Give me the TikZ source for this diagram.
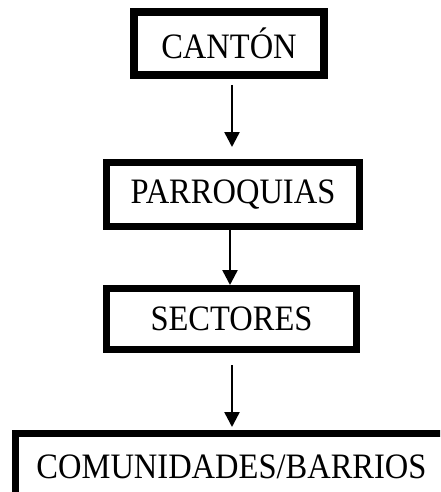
\documentclass[tikz,border=0pt]{standalone}
\usepackage{fontspec}
\setmainfont{Liberation Serif}
\usetikzlibrary{arrows.meta}
\def\rotulo#1{\scalebox{1}[1.1]{#1}}
\tikzset{
	nivel/.style={draw, line width=7pt, inner sep=0pt, font=\fontsize{32.5}{36}\selectfont},
	flecha/.style={line width=2.5pt, -{Triangle[length=15pt,width=15pt]}}
}

\begin{document}
\begin{tikzpicture}[x=1pt, y=-1pt]
		%%%%% START %%%%%
		
		\clip (0, 0) rectangle (440, 492);
		\useasboundingbox (0, 0) rectangle (440, 492);
		
		\node[nivel, line width=8pt, minimum width=190pt, minimum height=63pt] (canton) at (229, 43.5) {\rotulo{CANTÓN}};
		\node[nivel, minimum width=253pt, minimum height=64pt] (parroquias) at (233, 194.5) {\rotulo{PARROQUIAS}};
		\node[nivel, minimum width=250pt, minimum height=61pt] (sectores) at (231.5, 319) {\rotulo{SECTORES}};
		\node[nivel, minimum width=432pt, minimum height=67pt] (comunidades) at (231.5, 467) {\rotulo{COMUNIDADES/BARRIOS}};
		
		\draw[flecha, shorten <=6pt, shorten >=12pt] (canton.south -| 232, 0) -- (parroquias.north -| 232, 0);
		\draw[flecha] (parroquias.south -| 230, 0) -- (sectores.north -| 230, 0);
		\draw[flecha, shorten <=12pt, shorten >=3pt] (sectores.south -| 232, 0) -- (comunidades.north -| 232, 0);
		
		%%%%% END %%%%%
	\end{tikzpicture}
\end{document}
